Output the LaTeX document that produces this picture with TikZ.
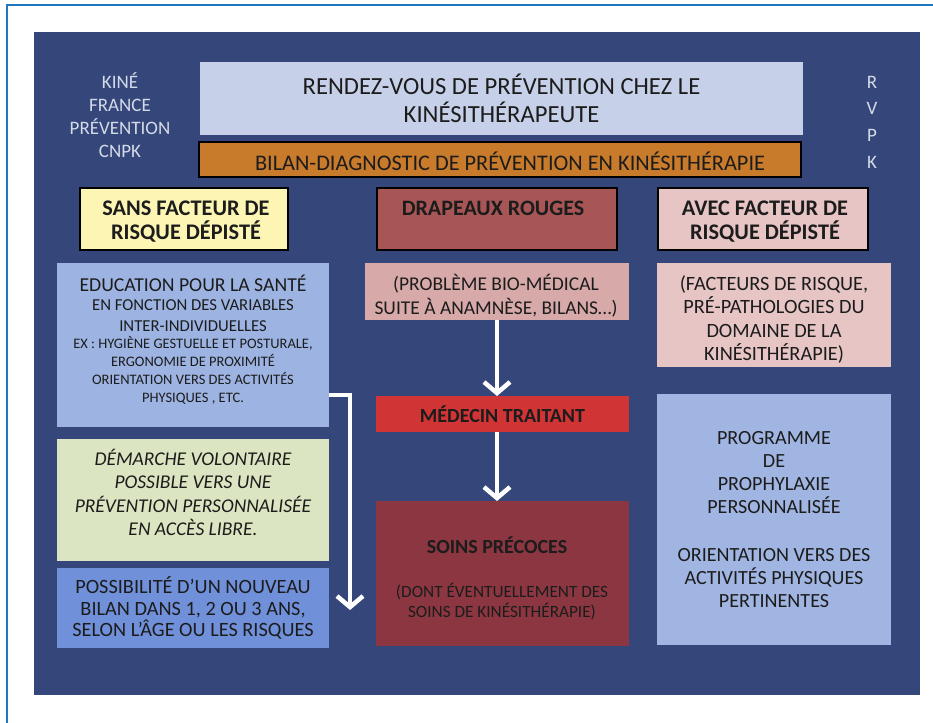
\documentclass[tikz,border=0pt]{standalone}
\usepackage{fontspec}
\setmainfont{Carlito}
\usetikzlibrary{arrows.meta}
\definecolor{panel}{HTML}{35477A}
\definecolor{framec}{HTML}{1F77C0}
\definecolor{titlebg}{HTML}{C6D1E9}
\definecolor{orangebg}{HTML}{C97B2C}
\definecolor{yellowbg}{HTML}{FCF5B4}
\definecolor{drapbg}{HTML}{A85555}
\definecolor{pinkbg}{HTML}{E7C5C5}
\definecolor{edubg}{HTML}{9DB4E3}
\definecolor{greenbg}{HTML}{DCE5C1}
\definecolor{bilanbg}{HTML}{7090D9}
\definecolor{biobg}{HTML}{D8A9A9}
\definecolor{medbg}{HTML}{D13434}
\definecolor{soinsbg}{HTML}{8B3640}
\definecolor{progbg}{HTML}{A1B5E3}
\definecolor{ink}{HTML}{1C1C1C}
\definecolor{sidetext}{HTML}{D5DAE8}
\begin{document}
\begin{tikzpicture}[x=1pt,y=-1pt,
  box/.style={anchor=north west, inner sep=0pt, outer sep=0pt, align=center, text=ink},
  hdr/.style={box, draw=black, line width=2.5pt},
  hdrtxt/.style={txt, font=\bfseries\fontsize{22.3}{24}\selectfont},
  txt/.style={align=center, inner sep=0pt, text=ink},
  side/.style={align=center, inner sep=0pt, text=sidetext},
  flow/.style={draw=white, line width=4.5pt, -{Straight Barb[length=11pt,width=26pt]}}
]
\useasboundingbox (0,0) rectangle (933,722);
\fill[white] (0,0) rectangle (933,722);
\draw[framec, line width=2.5pt] (7,5) rectangle (950,740);
\fill[panel] (34,32) rectangle (920,695);

% top
\node[box, fill=titlebg, minimum width=603pt, minimum height=73pt,
      font=\fontsize{24.6}{28}\selectfont] (title) at (200,62)
      {RENDEZ-VOUS DE PRÉVENTION CHEZ LE\\KINÉSITHÉRAPEUTE};
\node[box, fill=orangebg, draw=black, line width=2.5pt, minimum width=602pt, minimum height=35pt] (bilandiag) at (199,142) {};
\node[txt, font=\fontsize{22.3}{24}\selectfont] (bilandiagtxt) at (510,161.5)
      {BILAN-DIAGNOSTIC DE PRÉVENTION EN KINÉSITHÉRAPIE};
\node[side, font=\fontsize{19}{23}\selectfont] (org) at (120,115)
      {KINÉ\\FRANCE\\PRÉVENTION\\CNPK};
\node[side, font=\fontsize{19}{26.7}\selectfont] (rvpk) at (872,122)
      {R\\V\\P\\K};

% headers
\node[hdr, fill=yellowbg, minimum width=208pt, minimum height=62pt] (sans) at (80,188) {};
\node[hdrtxt] (sanstxt) at (186,222) {SANS FACTEUR DE\\RISQUE DÉPISTÉ};
\node[hdr, fill=drapbg, minimum width=240pt, minimum height=62pt] (drap) at (377,188) {};
\node[hdrtxt, font=\bfseries\fontsize{22}{24}\selectfont] (draptxt) at (493,208) {DRAPEAUX ROUGES};
\node[hdr, fill=pinkbg, minimum width=210pt, minimum height=62pt] (avec) at (658,188) {};
\node[hdrtxt] (avectxt) at (765,222) {AVEC FACTEUR DE\\RISQUE DÉPISTÉ};

% left column
\node[box, fill=edubg, minimum width=272pt, minimum height=164pt] (edu) at (57,263) {};
\node[txt, font=\fontsize{19.7}{23}\selectfont] (edu1) at (193,283) {EDUCATION POUR LA SANTÉ};
\node[txt, font=\fontsize{16.7}{21}\selectfont] (edu2) at (193,316) {EN FONCTION DES VARIABLES\\INTER-INDIVIDUELLES};
\node[txt, font=\fontsize{14.5}{18}\selectfont] (edu3) at (193,370) {EX : HYGIÈNE GESTUELLE ET POSTURALE,\\ERGONOMIE DE PROXIMITÉ\\ORIENTATION VERS DES ACTIVITÉS\\PHYSIQUES , ETC.};

\node[box, fill=greenbg, minimum width=272pt, minimum height=122pt] (demarche) at (57,439) {};
\node[txt, font=\itshape\fontsize{19.5}{23.5}\selectfont] (demarchetxt) at (193,492.5)
      {DÉMARCHE VOLONTAIRE\\POSSIBLE VERS UNE\\PRÉVENTION PERSONNALISÉE\\EN ACCÈS LIBRE.};
\node[box, fill=bilanbg, minimum width=272pt, minimum height=80pt,
      font=\fontsize{20.3}{21.5}\selectfont] (nouveau) at (57,568)
      {POSSIBILITÉ D’UN NOUVEAU\\BILAN DANS 1, 2 OU 3 ANS,\\SELON L’ÂGE OU LES RISQUES};

% middle column
\node[box, fill=biobg, minimum width=264pt, minimum height=57pt] (bio) at (365,263) {};
\node[txt, font=\fontsize{19.5}{24}\selectfont] (biotxt) at (496,295.5)
      {(PROBLÈME BIO-MÉDICAL\\SUITE À ANAMNÈSE, BILANS…)};
\node[box, fill=medbg, minimum width=253pt, minimum height=36pt,
      font=\bfseries\fontsize{20}{22}\selectfont] (med) at (376,396) {MÉDECIN TRAITANT};
\node[box, fill=soinsbg, minimum width=253pt, minimum height=145pt] (soins) at (376,501) {};
\node[txt, font=\bfseries\fontsize{20}{23}\selectfont] (soins1) at (497,545) {SOINS PRÉCOCES};
\node[txt, font=\fontsize{17.2}{20}\selectfont] (soins2) at (502,602) {(DONT ÉVENTUELLEMENT DES\\SOINS DE KINÉSITHÉRAPIE)};

% right column
\node[box, fill=pinkbg, minimum width=234pt, minimum height=104pt] (facteurs) at (657,263) {};
\node[txt, font=\fontsize{20.3}{23.5}\selectfont] (facteurstxt) at (774,319.5)
      {(FACTEURS DE RISQUE,\\PRÉ-PATHOLOGIES DU\\DOMAINE DE LA\\KINÉSITHÉRAPIE)};
\node[box, fill=progbg, minimum width=234pt, minimum height=251pt,
      font=\fontsize{20.1}{23.3}\selectfont] (prog) at (657,394)
      {PROGRAMME\\DE\\PROPHYLAXIE\\PERSONNALISÉE\\[24pt]ORIENTATION VERS DES\\ACTIVITÉS PHYSIQUES\\PERTINENTES};

% connectors
\draw[flow] (bio.south) -- (bio.south |- med.north);
\draw[flow] (bio.south |- med.south) -- (bio.south |- soins.north);
\coordinate (bend) at (350,395);
\coordinate (leftend) at (350,610);
\draw[flow] (edu.east |- bend) -- (bend) -- (leftend);
\end{tikzpicture}
\end{document}
